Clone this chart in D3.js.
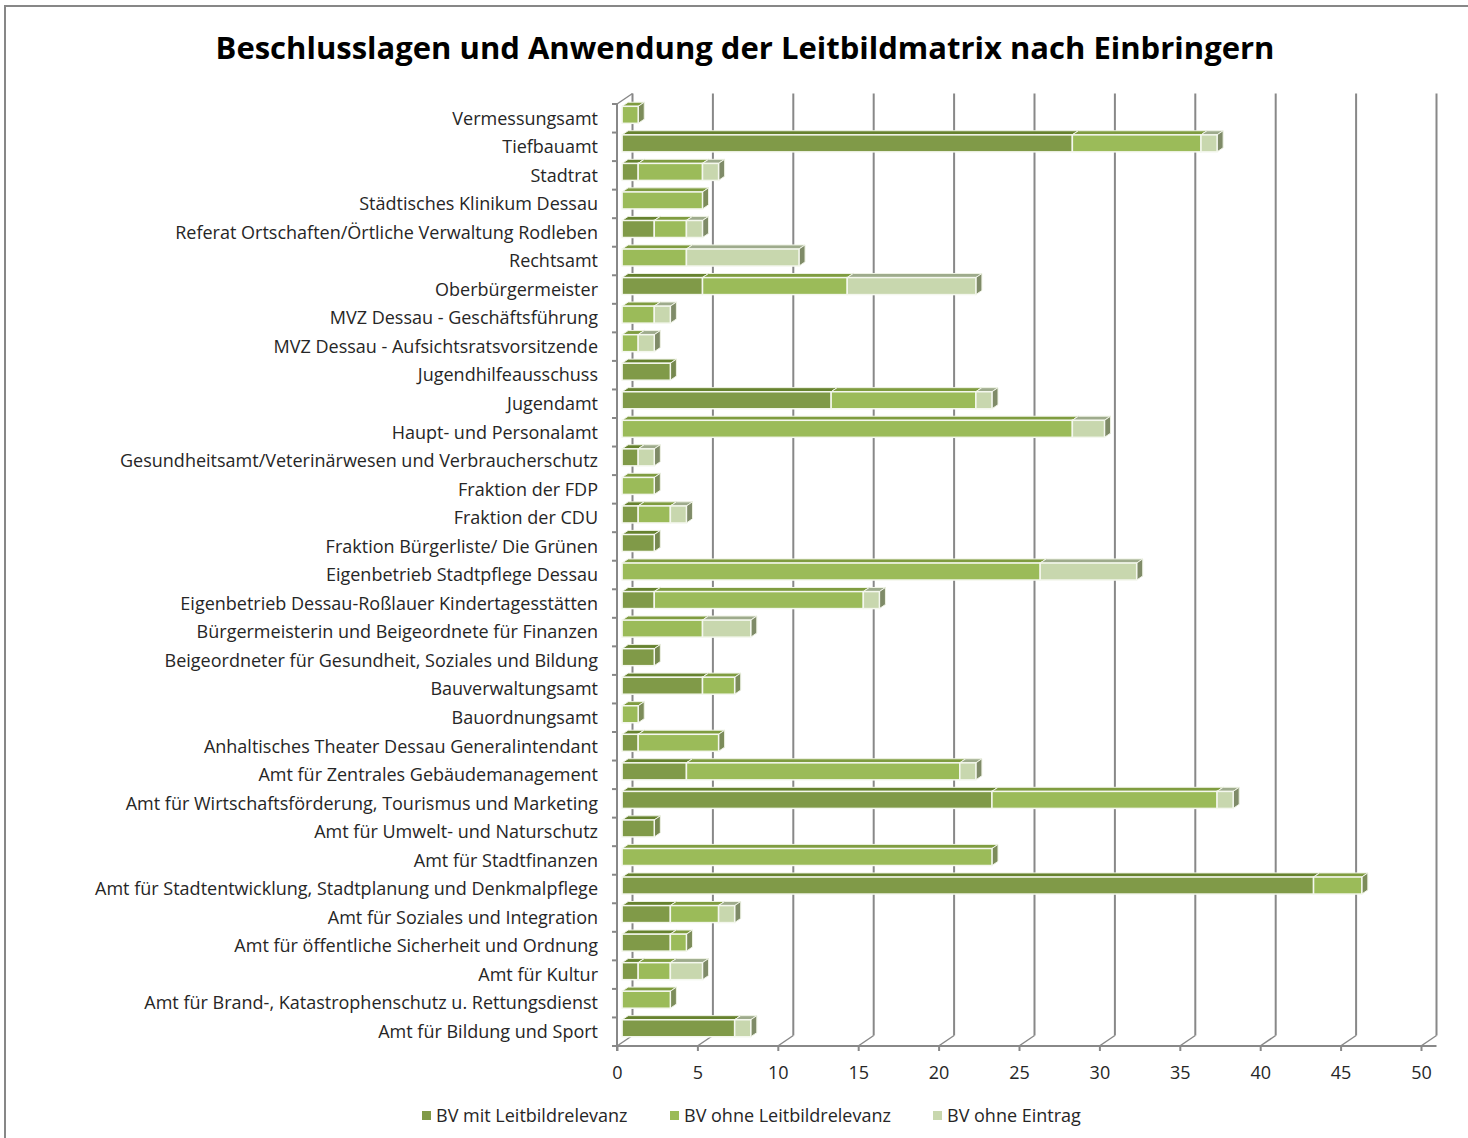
<!DOCTYPE html>
<html>
<head>
<meta charset="utf-8">
<script src="https://cdn.jsdelivr.net/npm/d3@7"></script>
<style>
  body { margin: 0; background: #fff; }
  text { font-family: "Open Sans", "Noto Sans", sans-serif; fill: #262626; }
</style>
</head>
<body>
<div id="chart"></div>
<script>
// categories as displayed, top to bottom
const categories = [
  "Vermessungsamt",
  "Tiefbauamt",
  "Stadtrat",
  "Städtisches Klinikum Dessau",
  "Referat Ortschaften/Örtliche Verwaltung Rodleben",
  "Rechtsamt",
  "Oberbürgermeister",
  "MVZ Dessau - Geschäftsführung",
  "MVZ Dessau - Aufsichtsratsvorsitzende",
  "Jugendhilfeausschuss",
  "Jugendamt",
  "Haupt- und Personalamt",
  "Gesundheitsamt/Veterinärwesen und Verbraucherschutz",
  "Fraktion der FDP",
  "Fraktion der CDU",
  "Fraktion Bürgerliste/ Die Grünen",
  "Eigenbetrieb Stadtpflege Dessau",
  "Eigenbetrieb Dessau-Roßlauer Kindertagesstätten",
  "Bürgermeisterin und Beigeordnete für Finanzen",
  "Beigeordneter für Gesundheit, Soziales und Bildung",
  "Bauverwaltungsamt",
  "Bauordnungsamt",
  "Anhaltisches Theater Dessau Generalintendant",
  "Amt für Zentrales Gebäudemanagement",
  "Amt für Wirtschaftsförderung, Tourismus und Marketing",
  "Amt für Umwelt- und Naturschutz",
  "Amt für Stadtfinanzen",
  "Amt für Stadtentwicklung, Stadtplanung und Denkmalpflege",
  "Amt für Soziales und Integration",
  "Amt für öffentliche Sicherheit und Ordnung",
  "Amt für Kultur",
  "Amt für Brand-, Katastrophenschutz u. Rettungsdienst",
  "Amt für Bildung und Sport"
]

const seriesNames = ["BV mit Leitbildrelevanz", "BV ohne Leitbildrelevanz", "BV ohne Eintrag"]

const mitRelevanz   = [0, 28, 1, 0, 2, 0, 5, 0, 0, 3, 13, 0, 1, 0, 1, 2, 0, 2, 0, 2, 5, 0, 1, 4, 23, 2, 0, 43, 3, 3, 1, 0, 7]
const ohneRelevanz  = [1, 8, 4, 5, 2, 4, 9, 2, 1, 0, 9, 28, 0, 2, 2, 0, 26, 13, 5, 0, 2, 1, 5, 17, 14, 0, 23, 3, 3, 1, 2, 3, 0]
const ohneEintrag   = [0, 1, 1, 0, 1, 7, 8, 1, 1, 0, 1, 2, 1, 0, 1, 0, 6, 1, 3, 0, 0, 0, 0, 1, 1, 0, 0, 0, 1, 0, 2, 0, 1]

const xTicks = [0, 5, 10, 15, 20, 25, 30, 35, 40, 45, 50]

const colors = {
  front: ["#809a48", "#9bbb59", "#c8d7ae"],
  top:   ["#66822f", "#7f9c40", "#9eab8c"],
  side:  ["#76884f", "#7c8c5a", "#7f8b68"]
}

const width = 1468, height = 1138
// depth of the 3d box (offset of the back wall)
const depth = {x: 15.5, y: -10.5}
const d0 = 0.33, d1 = 0.72

const svg = d3.select("#chart").append("svg")
  .attr("width", width).attr("height", height)

// outer border
svg.append("rect")
  .attr("x", 5).attr("y", 6).attr("width", width + 10).attr("height", height + 10)
  .attr("fill", "none").attr("stroke", "#878787").attr("stroke-width", 2)

svg.append("text")
  .attr("x", 745).attr("y", 59)
  .attr("text-anchor", "middle")
  .style("font-weight", "bold").style("font-size", "31px").style("fill", "#000")
  .text("Beschlusslagen und Anwendung der Leitbildmatrix nach Einbringern")

const x = d3.scaleLinear().domain([0, 50]).range([617, 1421])
const y = d3.scaleBand().domain(categories).range([104, 1046])

const gridColor = "#888888"

// back wall gridlines
const grid = svg.append("g")
grid.selectAll("line.back")
  .data(xTicks)
  .join("line")
  .attr("x1", d => x(d) + depth.x).attr("x2", d => x(d) + depth.x)
  .attr("y1", y.range()[0] + depth.y).attr("y2", y.range()[1] + depth.y)
  .attr("stroke", gridColor).attr("stroke-width", 2)

// floor diagonals
grid.selectAll("line.floor")
  .data(xTicks)
  .join("line")
  .attr("x1", d => x(d)).attr("x2", d => x(d) + depth.x)
  .attr("y1", y.range()[1]).attr("y2", y.range()[1] + depth.y)
  .attr("stroke", gridColor).attr("stroke-width", 1.5)

// top left diagonal
grid.append("line")
  .attr("x1", x(0)).attr("x2", x(0) + depth.x)
  .attr("y1", y.range()[0]).attr("y2", y.range()[0] + depth.y)
  .attr("stroke", gridColor).attr("stroke-width", 1.5)

// bars
const rows = categories.map((c, i) => {
  const vals = [mitRelevanz[i], ohneRelevanz[i], ohneEintrag[i]]
  let acc = 0
  const segs = []
  vals.forEach((v, s) => {
    if (v > 0) segs.push({s, a: acc, b: acc + v})
    acc += v
  })
  return {c, segs}
})

const barH = 17
const ox0 = d0 * depth.x, oy0 = d0 * depth.y
const dx = (d1 - d0) * depth.x, dy = (d1 - d0) * depth.y

const bars = svg.append("g")
rows.forEach(r => {
  const yc = y(r.c) + y.bandwidth() / 2 + oy0
  const yt = yc - barH / 2, yb = yc + barH / 2
  const g = bars.append("g")
  r.segs.forEach((seg, j) => {
    const xa = x(seg.a) + ox0, xb = x(seg.b) + ox0
    // top face
    g.append("path")
      .attr("d", `M${xa},${yt}L${xa + dx},${yt + dy}L${xb + dx},${yt + dy}L${xb},${yt}Z`)
      .attr("fill", colors.top[seg.s]).attr("stroke", "#eef2e4").attr("stroke-width", 1)
    // side face
    g.append("path")
      .attr("d", `M${xb},${yt}L${xb + dx},${yt + dy}L${xb + dx},${yb + dy}L${xb},${yb}Z`)
      .attr("fill", colors.side[seg.s]).attr("stroke", "#eef2e4").attr("stroke-width", 1)
    // front face
    g.append("rect")
      .attr("x", xa).attr("y", yt)
      .attr("width", xb - xa).attr("height", barH)
      .attr("fill", colors.front[seg.s])
      .attr("stroke", "#f4f7ee").attr("stroke-width", 1.5)
  })
})

// left axis
const axisG = svg.append("g")
axisG.append("line")
  .attr("x1", x(0)).attr("x2", x(0))
  .attr("y1", y.range()[0]).attr("y2", y.range()[1] + 5)
  .attr("stroke", gridColor).attr("stroke-width", 2)
const bounds = categories.map(c => y(c)).concat([y.range()[1]])
axisG.selectAll("line.tick")
  .data(bounds)
  .join("line")
  .attr("x1", x(0) - 5).attr("x2", x(0))
  .attr("y1", d => d).attr("y2", d => d)
  .attr("stroke", gridColor).attr("stroke-width", 2)

// bottom axis
const xAxis = d3.axisBottom(x).tickValues(xTicks).tickSize(5).tickPadding(15)
const bx = svg.append("g")
  .attr("transform", `translate(0,${y.range()[1]})`)
  .call(xAxis)
bx.select(".domain").attr("stroke", gridColor).attr("stroke-width", 2)
  .attr("d", `M${x(0)},0H${x(50) + depth.x}`)
bx.selectAll(".tick line").attr("stroke", gridColor).attr("stroke-width", 2)
bx.selectAll(".tick text")
  .style("font-size", "18px").style("font-family", "'Open Sans', sans-serif").attr("fill", "#262626")

// category labels
svg.append("g").selectAll("text")
  .data(categories)
  .join("text")
  .attr("x", 598)
  .attr("y", d => y(d) + y.bandwidth() / 2)
  .attr("dy", "0.35em")
  .attr("text-anchor", "end")
  .style("font-size", "18px")
  .text(d => d)

// legend
const legendX = [422, 670, 933]
const legend = svg.append("g").selectAll("g")
  .data(seriesNames)
  .join("g")
  .attr("transform", (d, i) => `translate(${legendX[i]},1116)`)
legend.append("rect")
  .attr("x", 0).attr("y", -5).attr("width", 9).attr("height", 9)
  .attr("fill", (d, i) => colors.front[i])
legend.append("text")
  .attr("x", 14).attr("dy", "0.35em")
  .style("font-size", "18px")
  .text(d => d)
</script>
</body>
</html>
